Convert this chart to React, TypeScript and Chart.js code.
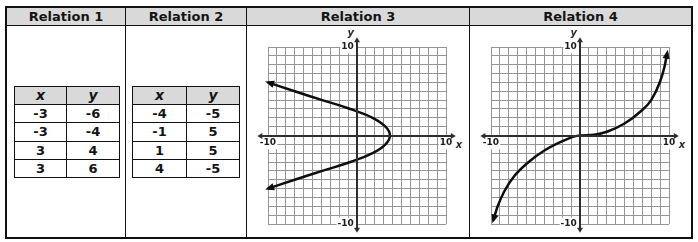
import React, { useEffect, useRef } from 'react';
import { Chart, registerables } from 'chart.js';

Chart.register(...registerables);

const FONT = "'DejaVu Sans', Verdana, sans-serif";

// Column headings of the outer table
const headers = ['Relation 1', 'Relation 2', 'Relation 3', 'Relation 4'];

// Relation 1 and 2: ordered pairs
const relation1X = [-3, -3, 3, 3];
const relation1Y = [-6, -4, 4, 6];
const relation2X = [-4, -1, 1, 4];
const relation2Y = [-5, 5, 5, -5];

// Relation 3: sideways curve opening to the left
const relation3X = [-10, -7, -3.9, -0.75, 1.75, 3.2, 3.7, 3.2, 1.75, -0.75, -3.9, -7, -10];
const relation3Y = [6, 5, 4, 3, 2, 1, 0, -1, -2, -3, -4, -5, -6];

// Relation 4: cubic-like curve through the origin
const relation4X = [-9.75, -9.25, -8.5, -7.4, -5.9, -4.0, -2.1, -0.6, 0, 1.6, 3.1, 5.0, 6.9, 8.0, 9.0, 9.5, 9.8];
const relation4Y = [-9.6, -8.0, -6.3, -4.6, -3.1, -1.7, -0.7, -0.1, 0, 0.08, 0.45, 1.35, 2.8, 4.0, 6.1, 7.8, 9.35];

// Coordinate grid
const gridMin = -10;
const gridMax = 10;
const gridStep = 1;
const labelledTicks = [-10, 10];

function arrowHead(ctx: CanvasRenderingContext2D, tx: number, ty: number, dx: number, dy: number, len: number, half: number) {
  const d = Math.hypot(dx, dy) || 1;
  const ux = dx / d;
  const uy = dy / d;
  const bx = tx - ux * len;
  const by = ty - uy * len;
  ctx.beginPath();
  ctx.moveTo(tx, ty);
  ctx.lineTo(bx - uy * half, by + ux * half);
  ctx.lineTo(bx + uy * half, by - ux * half);
  ctx.closePath();
  ctx.fill();
}

// Axis lines with arrows, arrowheads on the curve ends, and the x / y letters
const graphDecor = {
  id: 'graphDecor',
  afterDraw(chart: any, _args: any, opts: any) {
    const { ctx } = chart;
    const xs = chart.scales.x;
    const ys = chart.scales.y;
    const ox = Math.round(xs.getPixelForValue(0));
    const oy = Math.round(ys.getPixelForValue(0));
    const left = xs.getPixelForValue(opts.xReach[0]);
    const right = xs.getPixelForValue(opts.xReach[1]);
    const bottom = ys.getPixelForValue(opts.yReach[0]);
    const top = ys.getPixelForValue(opts.yReach[1]);
    ctx.save();
    ctx.strokeStyle = opts.axisColor;
    ctx.fillStyle = opts.axisColor;
    ctx.lineWidth = opts.axisWidth;
    ctx.beginPath();
    ctx.moveTo(left + 3, oy);
    ctx.lineTo(right - 3, oy);
    ctx.moveTo(ox, top + 3);
    ctx.lineTo(ox, bottom - 3);
    ctx.stroke();
    arrowHead(ctx, left, oy, -1, 0, 5, 3);
    arrowHead(ctx, right, oy, 1, 0, 5, 3);
    arrowHead(ctx, ox, top, 0, -1, 5, 3);
    arrowHead(ctx, ox, bottom, 0, 1, 5, 3);

    const pts = chart.getDatasetMeta(0).data as any[];
    if (pts.length > 1) {
      const a = pts[0];
      const b = pts[pts.length - 1];
      let d1x = a.x - (a.cp2x ?? pts[1].x);
      let d1y = a.y - (a.cp2y ?? pts[1].y);
      if (Math.hypot(d1x, d1y) < 0.5) { d1x = a.x - pts[1].x; d1y = a.y - pts[1].y; }
      let d2x = b.x - (b.cp1x ?? pts[pts.length - 2].x);
      let d2y = b.y - (b.cp1y ?? pts[pts.length - 2].y);
      if (Math.hypot(d2x, d2y) < 0.5) { d2x = b.x - pts[pts.length - 2].x; d2y = b.y - pts[pts.length - 2].y; }
      ctx.fillStyle = opts.curveColor;
      const n1 = Math.hypot(d1x, d1y) || 1;
      const n2 = Math.hypot(d2x, d2y) || 1;
      arrowHead(ctx, a.x + (d1x / n1) * 3, a.y + (d1y / n1) * 3, d1x, d1y, 9, 3.6);
      arrowHead(ctx, b.x + (d2x / n2) * 3, b.y + (d2y / n2) * 3, d2x, d2y, 9, 3.6);
    }

    ctx.fillStyle = opts.axisColor;
    ctx.font = `italic bold 10px ${FONT}`;
    ctx.textAlign = 'center';
    ctx.textBaseline = 'middle';
    ctx.fillText('x', xs.getPixelForValue(opts.xLetter[0]), ys.getPixelForValue(opts.xLetter[1]));
    ctx.fillText('y', xs.getPixelForValue(opts.yLetter[0]), ys.getPixelForValue(opts.yLetter[1]));
    ctx.restore();
  },
};

function gridScale(axis: 'x' | 'y') {
  return {
    type: 'linear',
    min: gridMin,
    max: gridMax,
    position: axis === 'x' ? { y: 0 } : { x: 0 },
    grid: { color: '#959595', lineWidth: 1, drawTicks: false },
    border: { display: false },
    ticks: {
      stepSize: gridStep,
      autoSkip: false,
      maxRotation: 0,
      minRotation: 0,
      z: 1,
      padding: 2,
      color: '#1c1c1c',
      font: { family: FONT, size: 9, weight: 'bold' },
      callback: (v: number) =>
        labelledTicks.includes(v) ? (axis === 'y' ? `${v} ` : String(v)) : '',
      showLabelBackdrop: (c: any) => labelledTicks.includes(c.tick?.value),
      backdropColor: '#ffffff',
      backdropPadding: 1,
    },
  };
}

type GraphProps = {
  xs: number[];
  ys: number[];
  left: number;
  top: number;
  width: number;
  height: number;
  pad: { left: number; right: number; top: number; bottom: number };
  monotone?: boolean;
};

function RelationGraph({ xs, ys, left, top, width, height, pad, monotone }: GraphProps) {
  const ref = useRef<HTMLCanvasElement>(null);
  useEffect(() => {
    const chart = new Chart(ref.current as HTMLCanvasElement, {
      type: 'scatter',
      data: {
        datasets: [
          {
            data: xs.map((x, i) => ({ x, y: ys[i] })),
            showLine: true,
            borderColor: '#0d0d0d',
            borderWidth: 2.5,
            pointRadius: 0,
            tension: monotone ? 0 : 0.4,
            cubicInterpolationMode: monotone ? 'monotone' : 'default',
            clip: 20,
          } as any,
        ],
      },
      options: {
        responsive: false,
        animation: false,
        devicePixelRatio: 1,
        events: [],
        layout: { padding: pad },
        plugins: {
          legend: { display: false },
          tooltip: { enabled: false },
          graphDecor: {
            xReach: [-11.2, 11.1],
            yReach: [-11.0, 11.1],
            axisColor: '#2e2e2e',
            axisWidth: 2,
            curveColor: '#0d0d0d',
            xLetter: [11.45, -1.15],
            yLetter: [-0.7, 11.55],
          },
        } as any,
        scales: { x: gridScale('x'), y: gridScale('y') } as any,
      },
      plugins: [graphDecor],
    });
    return () => chart.destroy();
  }, []);
  return (
    <div style={{ position: 'absolute', left, top, width, height }}>
      <canvas ref={ref} width={width} height={height} style={{ width, height, display: 'block' }} />
    </div>
  );
}

type TableProps = { left: number; top: number; cols: number[]; rows: number[]; xs: number[]; ys: number[] };

function PairTable({ left, top, cols, rows, xs, ys }: TableProps) {
  const cells: React.ReactNode[] = [];
  const lines: React.ReactNode[] = [];
  const body = [['x', 'y'], ...xs.map((x, i) => [String(x), String(ys[i])])];
  body.forEach((row, r) => {
    row.forEach((text, c) => {
      const head = r === 0;
      cells.push(
        <div
          key={`c${r}-${c}`}
          style={{
            position: 'absolute',
            left: left + cols[c] + 1,
            top: top + rows[r] + 1,
            width: cols[c + 1] - cols[c] - 1,
            height: rows[r + 1] - rows[r] - 1,
            lineHeight: `${rows[r + 1] - rows[r] - 1}px`,
            background: head ? '#d9d9d9' : '#ffffff',
            textAlign: 'center',
            fontWeight: 'bold',
            fontStyle: head ? 'italic' : 'normal',
            fontSize: head ? 14 : 13,
            color: '#141414',
          }}
        >
          {text}
        </div>
      );
    });
  });
  const w = cols[cols.length - 1];
  const h = rows[rows.length - 1];
  cols.forEach((cx, i) =>
    lines.push(<div key={`v${i}`} style={{ position: 'absolute', left: left + cx, top, width: 1, height: h + 1, background: '#111' }} />)
  );
  rows.forEach((ry, i) =>
    lines.push(<div key={`h${i}`} style={{ position: 'absolute', left, top: top + ry, width: w + 1, height: 1, background: '#111' }} />)
  );
  return (
    <>
      {cells}
      {lines}
    </>
  );
}

const headerCols = [
  { left: 7, width: 118 },
  { left: 126, width: 120 },
  { left: 247, width: 222 },
  { left: 470, width: 221 },
];

export default function App() {
  const bar = (k: string, l: number, t: number, w: number, h: number) => (
    <div key={k} style={{ position: 'absolute', left: l, top: t, width: w, height: h, background: '#111' }} />
  );
  return (
    <div
      style={{
        position: 'absolute',
        left: 0,
        top: 0,
        width: 698,
        height: 242,
        background: '#ffffff',
        fontFamily: FONT,
        overflow: 'hidden',
      }}
    >
      <div style={{ position: 'absolute', left: 7, top: 8, width: 684, height: 17, background: '#d9d9d9' }} />
      {headers.map((h, i) => (
        <div
          key={h}
          style={{
            position: 'absolute',
            left: headerCols[i].left,
            width: headerCols[i].width,
            top: 8,
            height: 17,
            lineHeight: '17px',
            textAlign: 'center',
            fontWeight: 'bold',
            fontSize: 13,
            color: '#141414',
          }}
        >
          {h}
        </div>
      ))}

      <PairTable left={14} top={86} cols={[0, 52, 105]} rows={[0, 18, 36, 55, 73, 91]} xs={relation1X} ys={relation1Y} />
      <PairTable left={132} top={86} cols={[0, 54, 107]} rows={[0, 18, 36, 55, 73, 91]} xs={relation2X} ys={relation2Y} />

      <RelationGraph
        xs={relation3X}
        ys={relation3Y}
        left={247}
        top={26}
        width={223}
        height={211}
        pad={{ left: 21, right: 24, top: 21, bottom: 13 }}
      />
      <RelationGraph
        xs={relation4X}
        ys={relation4Y}
        left={470}
        top={26}
        width={221}
        height={211}
        pad={{ left: 21, right: 22, top: 21, bottom: 13 }}
        monotone
      />

      {bar('hl', 7, 25, 684, 1)}
      {bar('d1', 125, 8, 1, 229)}
      {bar('d2', 246, 8, 1, 229)}
      {bar('d3', 469, 8, 1, 229)}
      {bar('ot', 5, 6, 688, 2)}
      {bar('ob', 5, 237, 688, 2)}
      {bar('ol', 5, 6, 2, 233)}
      {bar('or', 691, 6, 2, 233)}
    </div>
  );
}
